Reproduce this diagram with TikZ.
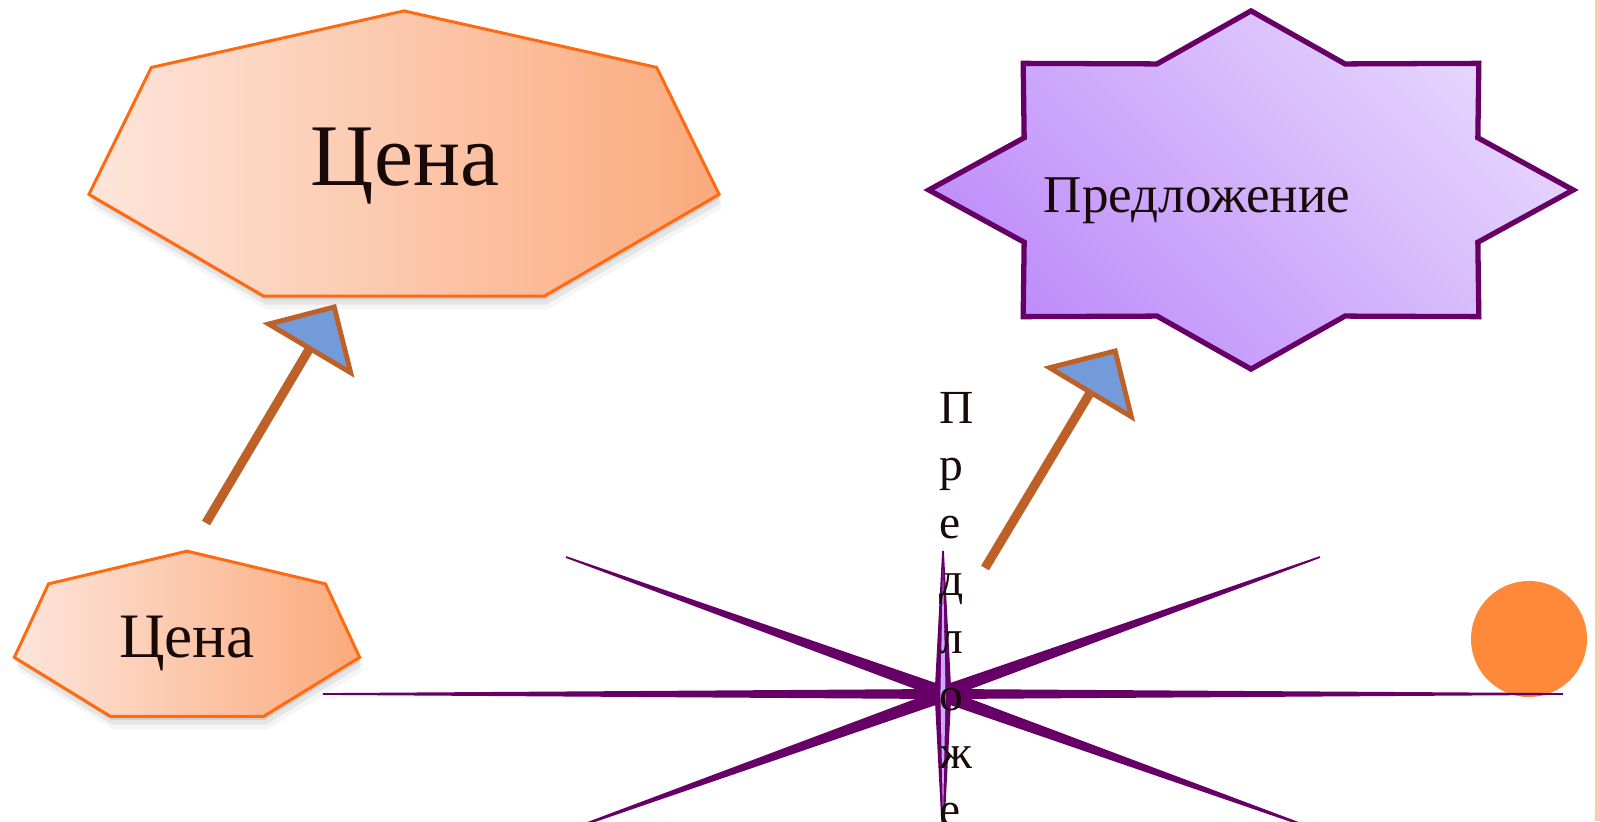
\documentclass[tikz,border=0pt]{standalone}
\usepackage{fontspec}
\setmainfont{Liberation Serif}
\usetikzlibrary{arrows.meta,shadows}
\definecolor{peachl}{RGB}{253,229,219}
\definecolor{peachr}{RGB}{251,170,124}
\definecolor{peachln}{RGB}{255,106,16}
\definecolor{violl}{RGB}{230,214,253}
\definecolor{viold}{RGB}{190,140,250}
\definecolor{violln}{RGB}{102,0,102}
\definecolor{rustc}{RGB}{190,97,40}
\definecolor{headc}{RGB}{116,155,217}
\definecolor{dotc}{RGB}{254,138,57}
\definecolor{edgec}{RGB}{251,201,181}
\definecolor{inkc}{RGB}{25,10,10}
\begin{document}
\begin{tikzpicture}[x=0.01cm, y=-0.01cm, text=inkc,
    hept/.style={draw=peachln, line width=0.85pt, left color=peachl, right color=peachr,
      drop shadow={shadow xshift=0.3pt, shadow yshift=-1pt, opacity=0.22},
      drop shadow={shadow xshift=0.6pt, shadow yshift=-2.4pt, opacity=0.14},
      drop shadow={shadow xshift=0.9pt, shadow yshift=-3.8pt, opacity=0.08}},
    star/.style={draw=violln, line width=1.5pt, left color=violl, right color=viold, shading angle=-45},
    spike/.style={draw=violln, line width=0.5pt, fill=violln},
    arr/.style={draw=rustc, line width=2.6pt, -{Triangle[width=1.06cm, length=0.54cm, fill=headc, line width=1.4pt]}},
    pricebig/.style={inner sep=0pt, font=\fontsize{25}{30}\selectfont},
    pricesm/.style={inner sep=0pt, font=\fontsize{18}{22}\selectfont},
    offertxt/.style={inner sep=0pt, font=\fontsize{15.1}{18}\selectfont},
    letter/.style={inner sep=0pt, font=\fontsize{13.5}{16}\selectfont}]
  \path[use as bounding box, clip] (0,0) rectangle (1600,821);
  \fill[edgec] (1595,0) rectangle (1600,821);
  \path[hept, shift={(404,161)}] (90:3.23cm and 1.5cm)
    \foreach \k [evaluate=\k as \a using 90+\k*51.4286] in {1,...,6} {-- (\a:3.23cm and 1.5cm)} -- cycle;
  \path[hept, shift={(187,638)}] (90:1.77cm and 0.868cm)
    \foreach \k [evaluate=\k as \a using 90+\k*51.4286] in {1,...,6} {-- (\a:1.77cm and 0.868cm)} -- cycle;
  \path[star, shift={(1251,190)}] (0:3.22cm and 1.79cm)
    \foreach \k [evaluate=\k as \b using \k*45+22.5, evaluate=\k as \c using \k*45+45] in {0,...,7}
      {-- (\b:2.454cm and 1.364cm) -- (\c:3.22cm and 1.79cm)} -- cycle;
  \node[pricebig, anchor=base] (price) at (405,185) {Цена};
  \node[pricesm, anchor=base] (price2) at (187,657) {Цена};
  \node[offertxt, anchor=base west] (supply) at (1043,212) {Предложение};
  \node[circle, fill=dotc, minimum size=1.16cm, inner sep=0pt] (dot) at (1529,639) {};
  \path[spike, shift={(943,694)}] (620,0) -- (22.7,-4) -- (377,-137) -- (7,-10) -- (0,-143)
    -- (-7,-10) -- (-377,-137) -- (-22.7,-4) -- (-620,0) -- (-22.7,4) -- (-377,137)
    -- (-7,10) -- (0,143) -- (7,10) -- (377,137) -- (22.7,4) -- cycle;
  \fill[viold!75, shift={(943,694)}] (0,-125) -- (2.6,0) -- (0,125) -- (-2.6,0) -- cycle;
  \foreach \ch [count=\i] in {П,р,е,д,л,о,ж,е}
    \node[letter, anchor=base west] (v\i) at (939,{423+57.5*(\i-1)}) {\ch};
  \coordinate (c1) at (206,523);
  \coordinate (t1) at (336,304);
  \coordinate (c2) at (985,568);
  \coordinate (t2) at (1117,348);
  \draw[arr] (c1) -- (t1);
  \draw[arr] (c2) -- (t2);
\end{tikzpicture}
\end{document}
